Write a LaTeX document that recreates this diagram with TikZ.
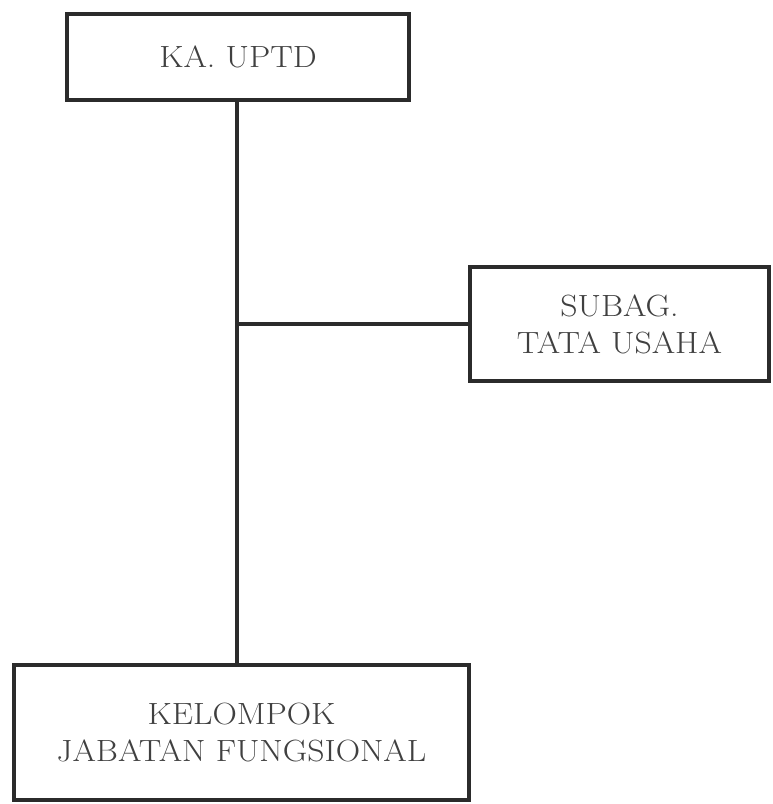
\documentclass[tikz,border=0pt]{standalone}
\newcommand{\wideline}[1]{\scalebox{1.1}[1]{#1}}
\begin{document}
\begin{tikzpicture}[x=1pt,y=-1pt,
  orgbox/.style={draw=linec, line width=4.5pt, rectangle, fill=white, align=center,
    text=textc, inner sep=0pt, font=\fontsize{30.7}{37}\selectfont},
  conn/.style={draw=linec, line width=4pt}]
\definecolor{linec}{HTML}{2B2B2B}
\definecolor{textc}{HTML}{404040}
\useasboundingbox (0,0) rectangle (773,804);
\fill[white] (0,0) rectangle (773,804);
\node[orgbox, minimum width=342pt, minimum height=86pt] (ka) at (238,57) {\wideline{KA.\ UPTD}};
\node[orgbox, minimum width=299pt, minimum height=114pt] (sub) at (619.5,324) {\wideline{SUBAG.}\\\wideline{TATA USAHA}};
\node[orgbox, minimum width=455pt, minimum height=135pt] (kel) at (241.5,732.5) {\wideline{KELOMPOK}\\\wideline{JABATAN FUNGSIONAL}};
\coordinate (j) at (237,324);
\draw[conn] (j |- ka.south) -- (j |- kel.north);
\draw[conn] (j) -- (sub.west);
\end{tikzpicture}
\end{document}
